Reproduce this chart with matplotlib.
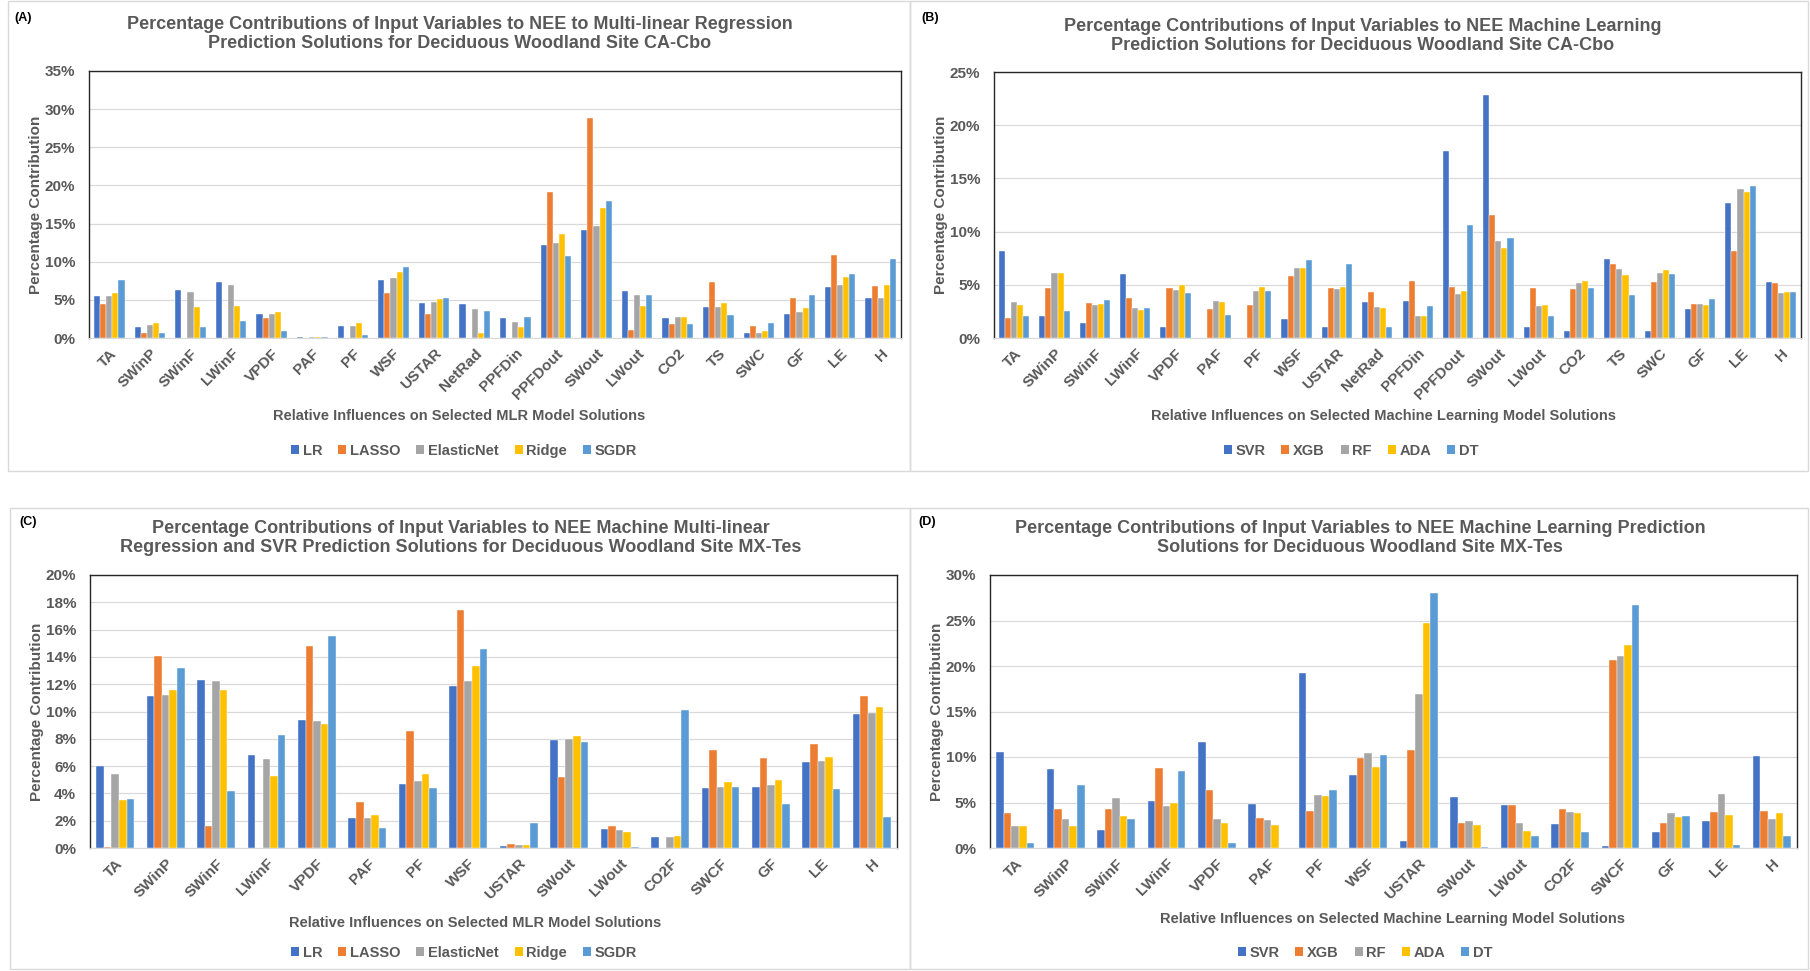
import numpy as np
import matplotlib
matplotlib.use("Agg")
import matplotlib.pyplot as plt
from matplotlib.patches import Rectangle, Patch
from matplotlib.ticker import PercentFormatter, MultipleLocator

plt.rcParams['font.family'] = ['Liberation Sans', 'DejaVu Sans']

W, H = 1810, 971
TXT = '#595959'
COLORS = ['#4472C4', '#ED7D31', '#A5A5A5', '#FFC000', '#5B9BD5']

# ---- (A) MLR, CA-Cbo ----
a_cats = ['TA', 'SWinP', 'SWinF', 'LWinF', 'VPDF', 'PAF', 'PF', 'WSF', 'USTAR', 'NetRad',
          'PPFDin', 'PPFDout', 'SWout', 'LWout', 'CO2', 'TS', 'SWC', 'GF', 'LE', 'H']
a_names = ['LR', 'LASSO', 'ElasticNet', 'Ridge', 'SGDR']
a_lr = [5.5, 1.5, 6.3, 7.3, 3.1, 0.15, 1.6, 7.6, 4.6, 4.5, 2.6, 12.2, 14.1, 6.2, 2.6, 4.0, 0.7, 3.2, 6.7, 5.2]
a_lasso = [4.4, 0.7, 0.0, 0.0, 2.6, 0.0, 0.0, 5.9, 3.1, 0.0, 0.0, 19.1, 28.9, 1.1, 1.8, 7.4, 1.6, 5.3, 10.9, 6.8]
a_enet = [5.5, 1.7, 6.0, 6.9, 3.1, 0.12, 1.6, 7.8, 4.7, 3.8, 2.1, 12.5, 14.7, 5.7, 2.7, 4.1, 0.7, 3.4, 6.9, 5.3]
a_ridge = [5.9, 2.0, 4.1, 4.2, 3.4, 0.15, 2.0, 8.6, 5.1, 0.7, 1.4, 13.6, 17.0, 4.2, 2.8, 4.6, 0.9, 3.9, 8.0, 7.0]
a_sgdr = [7.6, 0.7, 1.5, 2.2, 0.9, 0.12, 0.4, 9.3, 5.3, 3.5, 2.7, 10.7, 17.9, 5.6, 1.8, 3.0, 2.0, 5.7, 8.4, 10.4]

# ---- (B) ML, CA-Cbo ----
b_cats = a_cats
b_names = ['SVR', 'XGB', 'RF', 'ADA', 'DT']
b_svr = [8.2, 2.1, 1.4, 6.0, 1.0, 0.0, 0.0, 1.8, 1.0, 3.4, 3.5, 17.6, 22.8, 1.0, 0.7, 7.4, 0.7, 2.7, 12.7, 5.3]
b_xgb = [1.9, 4.7, 3.3, 3.8, 4.7, 2.7, 3.1, 5.8, 4.7, 4.3, 5.4, 4.8, 11.6, 4.7, 4.6, 7.0, 5.3, 3.2, 8.2, 5.2]
b_rf = [3.4, 6.1, 3.1, 2.8, 4.5, 3.5, 4.4, 6.6, 4.6, 2.9, 2.1, 4.1, 9.1, 3.0, 5.2, 6.5, 6.1, 3.2, 14.0, 4.2]
b_ada = [3.1, 6.1, 3.2, 2.6, 5.0, 3.4, 4.8, 6.6, 4.8, 2.8, 2.1, 4.4, 8.5, 3.1, 5.4, 5.9, 6.4, 3.1, 13.7, 4.3]
b_dt = [2.1, 2.5, 3.6, 2.8, 4.2, 2.2, 4.4, 7.3, 7.0, 1.0, 3.0, 10.6, 9.4, 2.1, 4.7, 4.0, 6.0, 3.7, 14.3, 4.3]

# ---- (C) MLR + SVR, MX-Tes ----
c_cats = ['TA', 'SWinP', 'SWinF', 'LWinF', 'VPDF', 'PAF', 'PF', 'WSF', 'USTAR', 'SWout',
          'LWout', 'CO2F', 'SWCF', 'GF', 'LE', 'H']
c_names = a_names
c_lr = [6.0, 11.1, 12.3, 6.8, 9.4, 2.2, 4.7, 11.9, 0.12, 7.9, 1.4, 0.8, 4.4, 4.5, 6.3, 9.8]
c_lasso = [0.1, 14.1, 1.6, 0.0, 14.8, 3.4, 8.6, 17.4, 0.3, 5.2, 1.6, 0.0, 7.2, 6.6, 7.6, 11.1]
c_enet = [5.4, 11.2, 12.2, 6.5, 9.3, 2.2, 4.9, 12.2, 0.2, 8.0, 1.3, 0.8, 4.5, 4.6, 6.4, 9.9]
c_ridge = [3.5, 11.6, 11.6, 5.3, 9.1, 2.4, 5.4, 13.3, 0.2, 8.2, 1.2, 0.9, 4.8, 5.0, 6.7, 10.3]
c_sgdr = [3.6, 13.2, 4.2, 8.3, 15.5, 1.5, 4.4, 14.6, 1.8, 7.8, 0.07, 10.1, 4.5, 3.2, 4.3, 2.3]

# ---- (D) ML, MX-Tes ----
d_cats = c_cats
d_names = b_names
d_svr = [10.6, 8.7, 2.0, 5.2, 11.7, 4.8, 19.2, 8.0, 0.8, 5.6, 4.7, 2.6, 0.2, 1.8, 3.0, 10.1]
d_xgb = [3.8, 4.3, 4.3, 8.8, 6.4, 3.3, 4.1, 9.9, 10.8, 2.8, 4.7, 4.3, 20.7, 2.8, 4.0, 4.1]
d_rf = [2.4, 3.2, 5.5, 4.6, 3.2, 3.1, 5.8, 10.4, 16.9, 3.0, 2.8, 4.0, 21.1, 3.9, 5.9, 3.2]
d_ada = [2.4, 2.4, 3.5, 4.9, 2.8, 2.5, 5.7, 8.9, 24.7, 2.5, 1.9, 3.8, 22.3, 3.4, 3.6, 3.8]
d_dt = [0.5, 6.9, 3.2, 8.5, 0.5, 0.0, 6.4, 10.2, 28.0, 0.1, 1.3, 1.8, 26.7, 3.5, 0.3, 1.3]

fig = plt.figure(figsize=(W / 100, H / 100), dpi=100)


def fx(px):
    return px / W


def fy(py):
    return 1 - py / H


def frame(x0, y0, x1, y1):
    fig.patches.append(Rectangle((fx(x0), fy(y1)), fx(x1) - fx(x0), fy(y0) - fy(y1),
                                 transform=fig.transFigure, fill=False,
                                 edgecolor='#d9d9d9', linewidth=1.0))


def panel(box, cats, names, series, ymax, ystep, title, title_xy, xlabel, xlabel_xy,
          legend_xy, letter, letter_xy):
    l, r, t, b = box
    ax = fig.add_axes([fx(l), fy(b), fx(r) - fx(l), fy(t) - fy(b)])
    x = np.arange(len(cats))
    w = 0.15
    for i, (vals, col) in enumerate(zip(series, COLORS)):
        ax.bar(x + (i - 2) * w, vals, width=w, color=col, edgecolor='white',
               linewidth=0.3, zorder=3)
    ax.set_xlim(-0.5, len(cats) - 0.5)
    ax.set_ylim(0, ymax)
    ax.yaxis.set_major_locator(MultipleLocator(ystep))
    ax.yaxis.set_major_formatter(PercentFormatter(decimals=0))
    ax.grid(axis='y', color='#d9d9d9', linewidth=0.9, zorder=0)
    ax.set_axisbelow(True)
    ax.set_xticks(x)
    ax.set_xticklabels(cats, rotation=45, ha='right', rotation_mode='anchor')
    ax.tick_params(axis='both', length=0, labelsize=11, labelcolor=TXT)
    ax.tick_params(axis='y', pad=10)
    ax.tick_params(axis='x', pad=6)
    for lab in ax.get_xticklabels() + ax.get_yticklabels():
        lab.set_fontweight('bold')
    for s in ['top', 'left', 'right']:
        ax.spines[s].set_color('#262626')
        ax.spines[s].set_linewidth(1.0)
    ax.spines['bottom'].set_color('#d9d9d9')
    ax.set_ylabel('Percentage Contribution', fontsize=11, fontweight='bold',
                  color=TXT, labelpad=1)
    fig.text(fx(title_xy[0]), fy(title_xy[1]), title, ha='center', va='center',
             fontsize=13, fontweight='bold', color=TXT, linespacing=1.15)
    fig.text(fx(xlabel_xy[0]), fy(xlabel_xy[1]), xlabel, ha='center', va='center',
             fontsize=10.5, fontweight='bold', color=TXT)
    handles = [Patch(facecolor=c, edgecolor='none') for c in COLORS]
    fig.legend(handles, names, loc='center', ncol=5, frameon=False,
               bbox_to_anchor=(fx(legend_xy[0]), fy(legend_xy[1])),
               bbox_transform=fig.transFigure, handlelength=0.55, handleheight=0.55,
               handletextpad=0.25, columnspacing=1.1,
               prop={'size': 10.5, 'weight': 'bold'}, labelcolor=TXT)
    fig.text(fx(letter_xy[0]), fy(letter_xy[1]), letter, ha='center', va='center',
             fontsize=9, fontweight='bold', color='black')
    return ax


frame(8, 1, 910, 471)
frame(910, 1, 1808, 471)
frame(10, 508, 910, 969)
frame(910, 508, 1808, 969)

panel((89, 901, 71, 338), a_cats, a_names, [a_lr, a_lasso, a_enet, a_ridge, a_sgdr], 35, 5,
      'Percentage Contributions of Input Variables to NEE to Multi-linear Regression\n'
      'Prediction Solutions for Deciduous Woodland Site CA-Cbo', (460, 34),
      'Relative Influences on Selected MLR Model Solutions', (459, 416),
      (464, 451), '(A)', (23, 18))

panel((994, 1801, 72, 338), b_cats, b_names, [b_svr, b_xgb, b_rf, b_ada, b_dt], 25, 5,
      'Percentage Contributions of Input Variables to NEE Machine Learning\n'
      'Prediction Solutions for Deciduous Woodland Site CA-Cbo', (1363, 36),
      'Relative Influences on Selected Machine Learning Model Solutions', (1383, 416),
      (1351, 451), '(B)', (930, 18))

panel((90, 897, 575, 848), c_cats, c_names, [c_lr, c_lasso, c_enet, c_ridge, c_sgdr], 20, 2,
      'Percentage Contributions of Input Variables to NEE Machine Multi-linear\n'
      'Regression and SVR Prediction Solutions for Deciduous Woodland Site MX-Tes', (461, 538),
      'Relative Influences on Selected MLR Model Solutions', (475, 923),
      (464, 953), '(C)', (28, 522))

panel((990, 1797, 575, 848), d_cats, d_names, [d_svr, d_xgb, d_rf, d_ada, d_dt], 30, 5,
      'Percentage Contributions of Input Variables to NEE Machine Learning Prediction\n'
      'Solutions for Deciduous Woodland Site MX-Tes', (1360, 538),
      'Relative Influences on Selected Machine Learning Model Solutions', (1393, 919),
      (1365, 953), '(D)', (927, 522))

fig.savefig('out.png', dpi=100)
